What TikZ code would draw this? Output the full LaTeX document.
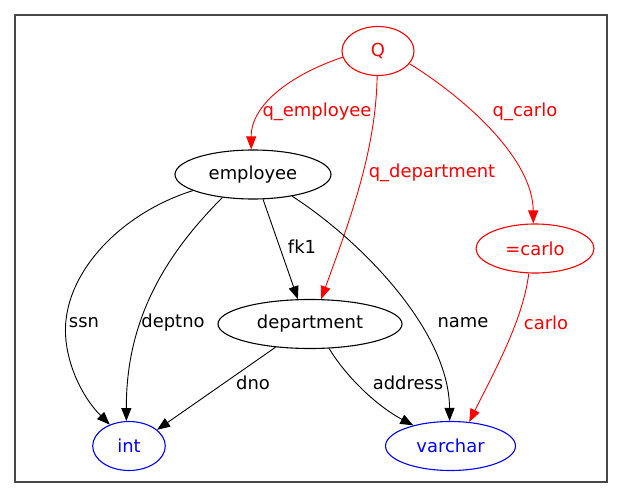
\documentclass[tikz,border=0pt]{standalone}
\usepackage{fontspec}
\setmainfont{DejaVu Sans}
\usetikzlibrary{shapes.geometric,arrows.meta}
\definecolor{gvred}{RGB}{255,0,0}
\definecolor{gvblue}{RGB}{0,0,255}
\definecolor{framegray}{RGB}{72,72,72}
\begin{document}
\begin{tikzpicture}[x=1bp,y=-1bp,
  every node/.style={font=\fontsize{18}{20}\selectfont},
  gvnode/.style={ellipse,draw,line width=1.1bp,inner sep=0pt,minimum height=49bp},
  rednode/.style={gvnode,draw=gvred,text=gvred},
  bluenode/.style={gvnode,draw=gvblue,text=gvblue},
  blacknode/.style={gvnode,draw=black,text=black},
  edge/.style={line width=0.9bp,-{Triangle[length=13bp,width=10bp]}},
  redge/.style={edge,draw=gvred},
  bedge/.style={edge,draw=black},
  rlab/.style={text=gvred,inner sep=0pt},
  blab/.style={text=black,inner sep=0pt}]
\useasboundingbox (0,0) rectangle (623,499);
\fill[white] (0,0) rectangle (623,499);
\draw[framegray,line width=1.3bp] (15,15) rectangle (607,482);

\node[rednode,minimum width=72bp] (Q) at (378,51) {Q};
\node[blacknode,minimum width=156bp] (emp) at (253,174.5) {employee};
\node[rednode,minimum width=118bp] (carlo) at (535,248.5) {=carlo};
\node[blacknode,minimum width=184bp] (dep) at (310,324) {department};
\node[bluenode,minimum width=72.6bp] (int) at (129,446) {int};
\node[bluenode,minimum width=130bp] (varchar) at (450.5,446) {varchar};

% red edges
\draw[redge] (Q.190) .. controls (290,75) and (251,105) .. (emp.94);
\node[rlab] (lqe) at (317,112) {q\_employee};
\draw[redge] (Q.268) .. controls (376,150) and (350,220) .. (dep.66);
\node[rlab] (lqd) at (432,173) {q\_department};
\draw[redge] (Q.338) .. controls (468,100) and (533,160) .. (carlo.94);
\node[rlab] (lqc) at (525,112) {q\_carlo};
\draw[redge] (carlo.256) .. controls (523,320) and (495,370) .. (varchar.52);
\node[rlab] (lc) at (546,323) {carlo};

% black edges
\draw[bedge] (emp.195) .. controls (125,212) and (72,265) .. (66,320)
  .. controls (62,355) and (80,395) .. (int.132);
\node[blab] (lssn) at (84,323) {ssn};
\draw[bedge] (emp.217) .. controls (165,255) and (126,320) .. (int.96);
\node[blab] (ldeptno) at (173,323) {deptno};
\draw[bedge] (emp.292) -- (dep.116);
\node[blab] (lfk) at (302,247) {fk1};
\draw[bedge] (emp.331) .. controls (360,240) and (449,330) .. (varchar.92);
\node[blab] (lname) at (463,323) {name};
\draw[bedge] (dep.214) -- (int.30);
\node[blab] (ldno) at (253,383) {dno};
\draw[bedge] (dep.308) .. controls (345,375) and (375,405) .. (varchar.151);
\node[blab] (laddr) at (408,383) {address};
\end{tikzpicture}
\end{document}
